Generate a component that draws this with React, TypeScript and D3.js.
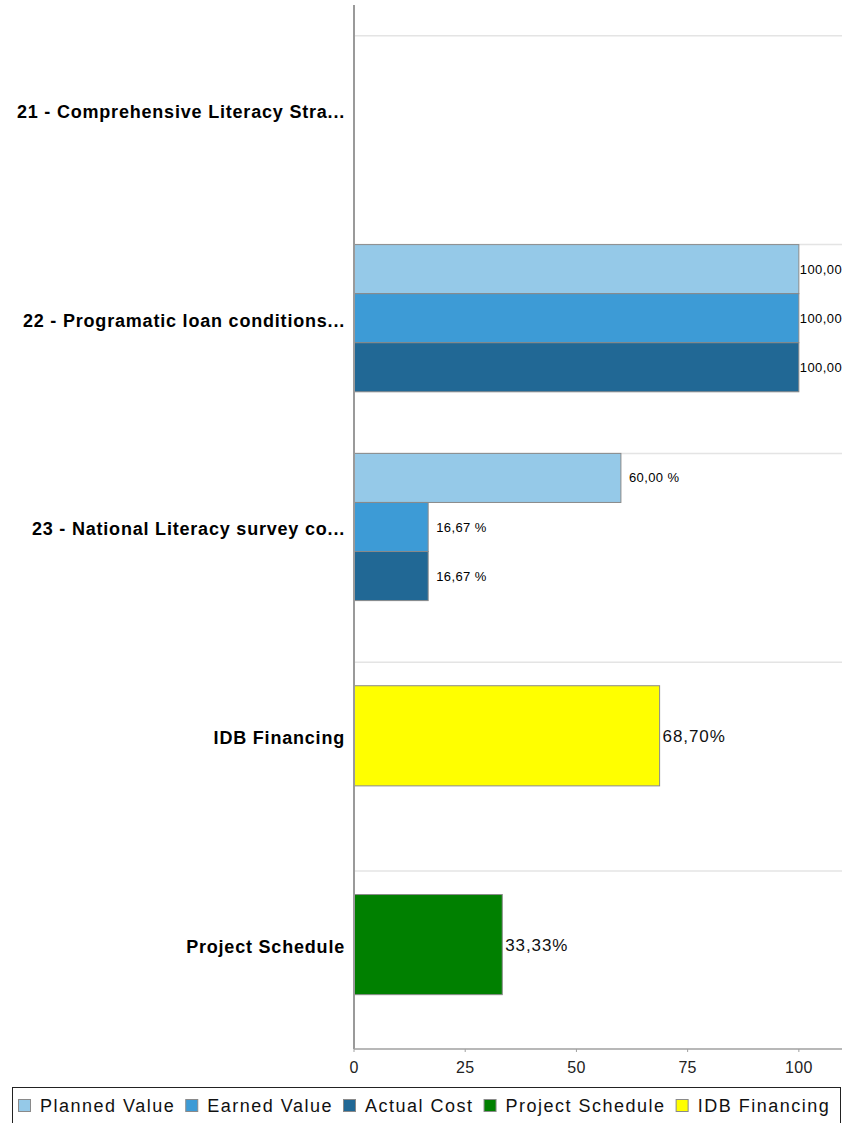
import React from "react";
import * as d3 from "d3";

const categories = [
  "21 - Comprehensive Literacy Stra...",
  "22 - Programatic loan conditions...",
  "23 - National Literacy survey co...",
  "IDB Financing",
  "Project Schedule",
];
const seriesNames = ["Planned Value", "Earned Value", "Actual Cost", "Project Schedule", "IDB Financing"];
const plannedValue = [null, 100, 60, null, null];
const earnedValue = [null, 100, 16.67, null, null];
const actualCost = [null, 100, 16.67, null, null];
const projectSchedule = [null, null, null, null, 33.33];
const idbFinancing = [null, null, null, 68.7, null];
const xTicks = [0, 25, 50, 75, 100];

const seriesColors = ["#95c9e8", "#3d9bd6", "#216895", "#008000", "#ffff00"];
const seriesData = [plannedValue, earnedValue, actualCost, projectSchedule, idbFinancing];
const evmCount = 3;

const W = 842;
const H = 1123;
const plot = { left: 354, right: 842, top: 5, bottom: 1049 };
const FONT = "'Liberation Sans', Arial, sans-serif";

const fmt = (v: number) => d3.format(".2f")(v).replace(".", ",");

function measure(text: string, font: string, ls: number) {
  const c = document.createElement("canvas");
  const ctx = c.getContext("2d")!;
  ctx.font = font;
  return ctx.measureText(text).width + ls * text.length;
}

export default function App() {
  const x = d3.scaleLinear().domain([0, 109.7]).range([plot.left, plot.right]);
  const y = d3.scaleBand<string>().domain(categories).range([plot.top, plot.bottom]).paddingInner(0);
  const barH = y.step() * 0.235;

  const bars: any[] = [];
  const grid: number[] = [];
  categories.forEach((cat, ci) => {
    const center = (y(cat) as number) + y.bandwidth() / 2;
    grid.push(center - barH * 1.5);
    const present = seriesData
      .map((arr, si) => ({ si, v: arr[ci] }))
      .filter((d) => d.v !== null && d.v !== undefined);
    if (present.length === 0) return;
    const isEvm = present[0].si < evmCount;
    const thick = isEvm ? barH : barH * 2 + 2;
    const inner = d3
      .scaleBand<number>()
      .domain(present.map((d) => d.si))
      .range([center - (thick * present.length) / 2, center + (thick * present.length) / 2]);
    present.forEach((d) => {
      bars.push({ si: d.si, v: d.v as number, y: inner(d.si) as number, h: inner.bandwidth(), evm: isEvm });
    });
  });

  const legendSize = 18;
  const legendLs = 1.5;
  const legendFont = `${legendSize}px ${FONT}`;
  let lx = 18;
  const legend = seriesNames.map((name, i) => {
    const item = { name, color: seriesColors[i], sx: lx, tx: lx + 22 };
    lx = item.tx + measure(name, legendFont, legendLs) + 10;
    return item;
  });

  return (
    <svg width={W} height={H} style={{ position: "absolute", left: 0, top: 0, background: "#fff" }}>
      <rect x={0} y={0} width={W} height={H} fill="#fff" />
      {grid.map((g, i) => (
        <line key={"g" + i} x1={plot.left + 1} x2={plot.right} y1={g} y2={g} stroke="#e4e4e4" strokeWidth={1.5} />
      ))}
      {bars.map((b, i) => (
        <rect
          key={"b" + i}
          x={x(0)}
          y={b.y}
          width={x(b.v) - x(0)}
          height={b.h}
          fill={seriesColors[b.si]}
          stroke="#8a8a8a"
          strokeWidth={1}
        />
      ))}
      {bars.map((b, i) =>
        b.evm ? (
          <text
            key={"l" + i}
            x={Math.min(x(b.v) + 8, x(100) + 1)}
            y={b.y + b.h / 2}
            dy="0.35em"
            fontFamily={FONT}
            fontSize={13}
            letterSpacing={0.4}
            fill="#000"
          >
            {fmt(b.v) + " %"}
          </text>
        ) : (
          <text
            key={"l" + i}
            x={x(b.v) + 3}
            y={b.y + b.h / 2}
            dy="0.35em"
            fontFamily={FONT}
            fontSize={17}
            letterSpacing={0.9}
            fill="#111"
          >
            {fmt(b.v) + "%"}
          </text>
        )
      )}
      {/* category axis */}
      <line x1={plot.left} x2={plot.left} y1={plot.top} y2={plot.bottom} stroke="#9a9a9a" strokeWidth={2} />
      {categories.map((c) => (
        <text
          key={c}
          x={345}
          y={(y(c) as number) + y.bandwidth() / 2 + 2}
          dy="0.35em"
          textAnchor="end"
          fontFamily={FONT}
          fontWeight="bold"
          fontSize={18}
          letterSpacing={0.8}
          fill="#000"
        >
          {c}
        </text>
      ))}
      {/* value axis */}
      <line x1={plot.left} x2={plot.right} y1={plot.bottom} y2={plot.bottom} stroke="#a0a0a0" strokeWidth={1.5} />
      {xTicks.map((t) => (
        <g key={"t" + t}>
          <line x1={x(t)} x2={x(t)} y1={plot.bottom} y2={plot.bottom + 3} stroke="#a0a0a0" />
          <text
            x={x(t)}
            y={1067}
            dy="0.35em"
            textAnchor="middle"
            fontFamily={FONT}
            fontSize={16}
            letterSpacing={0.3}
            fill="#222"
          >
            {t}
          </text>
        </g>
      ))}
      {/* legend */}
      <rect x={12.5} y={1087.5} width={828} height={60} fill="#fff" stroke="#222" strokeWidth={1} />
      {legend.map((l) => (
        <g key={l.name}>
          <rect x={l.sx + 0.5} y={1099.5} width={12} height={12} fill={l.color} stroke="#8a8a8a" />
          <text
            x={l.tx}
            y={1106}
            dy="0.35em"
            fontFamily={FONT}
            fontSize={legendSize}
            letterSpacing={legendLs}
            fill="#111"
          >
            {l.name}
          </text>
        </g>
      ))}
    </svg>
  );
}
